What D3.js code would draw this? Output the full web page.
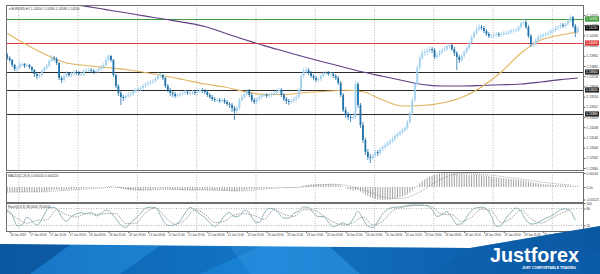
<!DOCTYPE html>
<html lang="en">
<head>
<meta charset="UTF-8">
<title>EURUSD H1</title>
<style>
  html, body { margin: 0; padding: 0; background: #fff; }
  svg { display: block; }
  text { font-family: "Liberation Sans", "DejaVu Sans", sans-serif; }
</style>
</head>
<body>
<div id="chart"></div>
<script src="https://d3js.org/d3.v7.min.js"></script>
<script>
// ---- data ----
var firstOpen = 1.1397;

var closes = [
  1.1394,1.1392,1.1387,1.1383,1.1384,1.1388,1.1388,1.1386,1.1387,1.1385,
  1.1382,1.1378,1.1376,1.1377,1.1381,1.1384,1.1386,1.1391,1.1394,1.1393,
  1.1389,1.1374,1.1372,1.1376,1.1379,1.1377,1.1378,1.1380,1.1379,1.1378,
  1.1378,1.1381,1.1382,1.1382,1.1381,1.1380,1.1381,1.1383,1.1385,1.1387,
  1.1392,1.1396,1.1392,1.1377,1.1366,1.1359,1.1355,1.1354,1.1356,1.1357,
  1.1358,1.1361,1.1362,1.1363,1.1364,1.1366,1.1368,1.1369,1.1370,1.1371,
  1.1373,1.1376,1.1377,1.1374,1.1366,1.1362,1.1359,1.1358,1.1356,1.1357,
  1.1358,1.1359,1.1360,1.1359,1.1359,1.1360,1.1359,1.1361,1.1362,1.1361,
  1.1360,1.1357,1.1355,1.1353,1.1352,1.1352,1.1351,1.1352,1.1350,1.1348,
  1.1347,1.1344,1.1341,1.1344,1.1352,1.1355,1.1358,1.1361,1.1357,1.1352,
  1.1350,1.1353,1.1355,1.1357,1.1357,1.1356,1.1357,1.1358,1.1359,1.1361,
  1.1362,1.1357,1.1353,1.1351,1.1350,1.1351,1.1353,1.1355,1.1362,1.1376,
  1.1381,1.1382,1.1379,1.1376,1.1374,1.1372,1.1373,1.1376,1.1379,1.1379,
  1.1378,1.1378,1.1376,1.1374,1.1369,1.1357,1.1342,1.1337,1.1335,1.1334,
  1.1335,1.1368,1.1347,1.1327,1.1312,1.1300,1.1295,1.1294,1.1297,1.1300,
  1.1299,1.1303,1.1305,1.1307,1.1309,1.1311,1.1313,1.1316,1.1318,1.1320,
  1.1322,1.1324,1.1330,1.1339,1.1352,1.1368,1.1384,1.1394,1.1399,1.1400,
  1.1401,1.1403,1.1402,1.1395,1.1397,1.1400,1.1402,1.1403,1.1406,1.1407,
  1.1403,1.1399,1.1395,1.1392,1.1396,1.1400,1.1404,1.1409,1.1415,1.1419,
  1.1423,1.1425,1.1424,1.1421,1.1418,1.1416,1.1416,1.1417,1.1418,1.1417,
  1.1418,1.1419,1.1419,1.1420,1.1421,1.1422,1.1422,1.1425,1.1429,1.1430,
  1.1425,1.1416,1.1408,1.1408,1.1412,1.1415,1.1416,1.1417,1.1418,1.1419,
  1.1421,1.1422,1.1424,1.1425,1.1427,1.1426,1.1428,1.1431,1.1435,1.1426,
  1.1420,1.1424
];

var highs = [
  1.1399,1.1396,1.1393,1.1388,1.1386,1.1390,1.1390,1.1389,1.1389,1.1388,
  1.1386,1.1383,1.1380,1.1379,1.1383,1.1386,1.1388,1.1393,1.1397,1.1396,
  1.1395,1.1390,1.1376,1.1378,1.1381,1.1380,1.1380,1.1382,1.1382,1.1381,
  1.1380,1.1383,1.1384,1.1384,1.1384,1.1383,1.1383,1.1385,1.1387,1.1389,
  1.1395,1.1398,1.1397,1.1393,1.1378,1.1368,1.1361,1.1357,1.1358,1.1360,
  1.1360,1.1363,1.1364,1.1365,1.1366,1.1368,1.1370,1.1371,1.1372,1.1373,
  1.1375,1.1378,1.1379,1.1378,1.1375,1.1368,1.1364,1.1361,1.1360,1.1359,
  1.1360,1.1361,1.1362,1.1362,1.1361,1.1362,1.1362,1.1363,1.1364,1.1364,
  1.1363,1.1362,1.1359,1.1357,1.1355,1.1354,1.1354,1.1354,1.1354,1.1352,
  1.1350,1.1349,1.1346,1.1346,1.1354,1.1357,1.1360,1.1363,1.1363,1.1359,
  1.1354,1.1355,1.1357,1.1359,1.1359,1.1359,1.1359,1.1360,1.1361,1.1363,
  1.1364,1.1364,1.1359,1.1355,1.1353,1.1353,1.1355,1.1357,1.1364,1.1378,
  1.1384,1.1385,1.1384,1.1381,1.1378,1.1376,1.1375,1.1378,1.1381,1.1381,
  1.1381,1.1380,1.1380,1.1378,1.1376,1.1371,1.1359,1.1345,1.1340,1.1338,
  1.1339,1.1371,1.1370,1.1349,1.1330,1.1314,1.1303,1.1298,1.1299,1.1302,
  1.1302,1.1305,1.1307,1.1309,1.1311,1.1313,1.1315,1.1318,1.1320,1.1322,
  1.1324,1.1326,1.1332,1.1341,1.1354,1.1370,1.1387,1.1397,1.1402,1.1403,
  1.1404,1.1406,1.1405,1.1404,1.1399,1.1402,1.1404,1.1406,1.1409,1.1409,
  1.1408,1.1405,1.1401,1.1397,1.1398,1.1402,1.1406,1.1411,1.1417,1.1421,
  1.1426,1.1428,1.1427,1.1426,1.1423,1.1420,1.1418,1.1419,1.1420,1.1420,
  1.1420,1.1421,1.1421,1.1422,1.1423,1.1424,1.1424,1.1427,1.1431,1.1433,
  1.1432,1.1427,1.1418,1.1411,1.1414,1.1417,1.1418,1.1419,1.1420,1.1421,
  1.1423,1.1424,1.1426,1.1427,1.1429,1.1429,1.1430,1.1433,1.1437,1.1436,
  1.1428,1.1426
];

var lows = [
  1.1392,1.1390,1.1385,1.1381,1.1380,1.1383,1.1385,1.1384,1.1384,1.1383,
  1.1380,1.1375,1.1373,1.1374,1.1375,1.1380,1.1382,1.1385,1.1390,1.1391,
  1.1387,1.1372,1.1369,1.1370,1.1374,1.1375,1.1375,1.1376,1.1377,1.1376,
  1.1376,1.1376,1.1380,1.1380,1.1379,1.1378,1.1378,1.1379,1.1381,1.1383,
  1.1386,1.1390,1.1390,1.1375,1.1364,1.1356,1.1347,1.1351,1.1352,1.1354,
  1.1355,1.1356,1.1359,1.1360,1.1361,1.1362,1.1364,1.1366,1.1367,1.1368,
  1.1369,1.1372,1.1374,1.1372,1.1364,1.1360,1.1356,1.1355,1.1354,1.1354,
  1.1355,1.1356,1.1357,1.1357,1.1357,1.1357,1.1357,1.1357,1.1359,1.1359,
  1.1358,1.1355,1.1353,1.1351,1.1350,1.1350,1.1349,1.1349,1.1348,1.1346,
  1.1344,1.1340,1.1332,1.1338,1.1342,1.1350,1.1353,1.1356,1.1355,1.1350,
  1.1348,1.1348,1.1351,1.1353,1.1355,1.1354,1.1354,1.1355,1.1356,1.1357,
  1.1359,1.1355,1.1351,1.1348,1.1347,1.1348,1.1349,1.1351,1.1353,1.1360,
  1.1374,1.1379,1.1377,1.1374,1.1372,1.1370,1.1370,1.1371,1.1374,1.1377,
  1.1376,1.1375,1.1374,1.1372,1.1367,1.1355,1.1340,1.1334,1.1332,1.1330,
  1.1332,1.1333,1.1344,1.1324,1.1309,1.1297,1.1292,1.1289,1.1292,1.1295,
  1.1296,1.1297,1.1301,1.1303,1.1305,1.1307,1.1309,1.1311,1.1314,1.1316,
  1.1318,1.1320,1.1322,1.1328,1.1337,1.1350,1.1366,1.1382,1.1392,1.1396,
  1.1397,1.1399,1.1399,1.1393,1.1393,1.1395,1.1398,1.1400,1.1401,1.1404,
  1.1401,1.1396,1.1382,1.1389,1.1390,1.1394,1.1398,1.1402,1.1407,1.1413,
  1.1417,1.1421,1.1422,1.1419,1.1416,1.1414,1.1414,1.1414,1.1415,1.1415,
  1.1415,1.1416,1.1417,1.1417,1.1418,1.1419,1.1420,1.1420,1.1423,1.1427,
  1.1423,1.1414,1.1405,1.1405,1.1406,1.1410,1.1413,1.1414,1.1415,1.1416,
  1.1417,1.1419,1.1420,1.1422,1.1423,1.1424,1.1424,1.1426,1.1429,1.1424,
  1.1415,1.1418
];

// moving averages, sampled every 8 bars plus the last bar
var maStep = 8;
var maFast = [1.14185,1.14070,1.13970,1.13890,1.13865,1.13845,1.13825,1.13795,1.13760,1.13720,
  1.13680,1.13650,1.13605,1.13575,1.13575,1.13592,1.13605,1.13617,1.13603,1.13520,
  1.13460,1.13465,1.13490,1.13545,1.13650,1.13800,1.13990,1.14120,1.14170,1.14200];
var maSlow = [1.14586,1.14554,1.14521,1.14489,1.14456,1.14424,1.14392,1.14359,1.14327,1.14294,
  1.14255,1.14190,1.14125,1.14064,1.14008,1.13953,1.13900,1.13850,1.13800,1.13757,
  1.13715,1.13675,1.13660,1.13660,1.13665,1.13672,1.13680,1.13700,1.13724,1.13740];

// horizontal levels
var levelPrices = [1.1433, 1.1409, 1.1380, 1.1362, 1.1338];
var levelKinds = ["green", "red", "black", "black", "black"];

var priceTicks = [1.14370,1.14268,1.14166,1.14064,1.13962,1.13860,1.13758,1.13656,1.13554,
  1.13452,1.13350,1.13248,1.13146,1.13044,1.12942,1.12840];

// MACD histogram (every bar) and signal (every 4 bars)
var macdHist = [
  -0.00046,-0.00047,-0.00048,-0.00049,-0.00050,-0.00049,-0.00048,-0.00048,-0.00047,-0.00047,
  -0.00048,-0.00049,-0.00050,-0.00049,-0.00047,-0.00044,-0.00041,-0.00037,-0.00032,-0.00028,
  -0.00026,-0.00028,-0.00030,-0.00029,-0.00027,-0.00025,-0.00023,-0.00021,-0.00019,-0.00017,
  -0.00015,-0.00013,-0.00011,-0.00009,-0.00008,-0.00006,-0.00005,-0.00003,-0.00001,0.00001,
  0.00004,0.00007,0.00008,0.00004,-0.00003,-0.00010,-0.00017,-0.00023,-0.00028,-0.00031,
  -0.00034,-0.00035,-0.00036,-0.00036,-0.00035,-0.00034,-0.00032,-0.00030,-0.00028,-0.00025,
  -0.00022,-0.00019,-0.00016,-0.00015,-0.00017,-0.00020,-0.00023,-0.00026,-0.00028,-0.00030,
  -0.00031,-0.00032,-0.00032,-0.00032,-0.00032,-0.00031,-0.00031,-0.00030,-0.00029,-0.00029,
  -0.00029,-0.00030,-0.00031,-0.00033,-0.00034,-0.00035,-0.00036,-0.00036,-0.00037,-0.00038,
  -0.00039,-0.00040,-0.00042,-0.00042,-0.00039,-0.00035,-0.00031,-0.00026,-0.00023,-0.00021,
  -0.00020,-0.00019,-0.00017,-0.00015,-0.00013,-0.00012,-0.00010,-0.00008,-0.00006,-0.00004,
  -0.00003,-0.00003,-0.00004,-0.00005,-0.00006,-0.00006,-0.00006,-0.00005,-0.00002,0.00006,
  0.00013,0.00019,0.00023,0.00026,0.00027,0.00028,0.00028,0.00028,0.00029,0.00029,
  0.00029,0.00029,0.00028,0.00027,0.00024,0.00016,0.00003,-0.00009,-0.00020,-0.00029,
  -0.00036,-0.00029,-0.00033,-0.00045,-0.00060,-0.00076,-0.00090,-0.00103,-0.00112,-0.00119,
  -0.00124,-0.00127,-0.00129,-0.00129,-0.00128,-0.00125,-0.00121,-0.00116,-0.00110,-0.00103,
  -0.00095,-0.00086,-0.00074,-0.00058,-0.00038,-0.00014,0.00012,0.00036,0.00058,0.00076,
  0.00092,0.00105,0.00116,0.00123,0.00129,0.00134,0.00138,0.00141,0.00143,0.00144,
  0.00143,0.00140,0.00136,0.00132,0.00129,0.00126,0.00124,0.00123,0.00123,0.00123,
  0.00123,0.00122,0.00120,0.00117,0.00113,0.00109,0.00105,0.00101,0.00097,0.00094,
  0.00091,0.00088,0.00085,0.00082,0.00079,0.00076,0.00073,0.00070,0.00068,0.00066,
  0.00062,0.00056,0.00049,0.00043,0.00039,0.00036,0.00033,0.00030,0.00028,0.00026,
  0.00024,0.00022,0.00020,0.00019,0.00018,0.00017,0.00016,0.00016,0.00017,0.00015,
  0.00012,0.00011
];
var macdSignalStep = 4;
var macdSignal = [
  -0.00052,-0.00050,-0.00049,-0.00049,-0.00047,-0.00040,-0.00033,-0.00027,-0.00020,-0.00013,
  -0.00006,-0.00001,-0.00010,-0.00022,-0.00030,-0.00028,-0.00022,-0.00023,-0.00028,-0.00030,
  -0.00030,-0.00031,-0.00034,-0.00038,-0.00038,-0.00030,-0.00020,-0.00012,-0.00006,-0.00005,
  0.00002,0.00015,0.00024,0.00028,0.00022,0.00000,-0.00028,-0.00065,-0.00098,-0.00116,
  -0.00114,-0.00085,-0.00038,0.00026,0.00082,0.00118,0.00134,0.00132,0.00127,0.00118,
  0.00106,0.00093,0.00080,0.00066,0.00050,0.00038,0.00028,0.00022
];
var macdTicks = [0.00140, 0, -0.00125];

// Stochastic: main every 2 bars, signal every 4 bars
var stochMainStep = 2;
var stochMain = [
  74,58,18,22,49,35,21,42,75,85,
  80,50,35,52,61,65,62,66,54,62,
  75,65,44,21,13,30,45,63,82,85,
  84,56,26,19,23,36,64,84,75,60,
  48,29,17,30,55,66,51,54,74,65,
  35,30,63,81,79,62,46,46,62,72,
  86,84,64,51,52,32,15,22,29,22,
  43,70,43,17,13,33,61,77,84,85,
  87,91,93,93,92,90,76,52,59,69,
  49,24,26,50,73,83,85,80,52,16,
  20,47,67,82,70,40,25,27,36,45,
  53,64,76,79,70,38
];
var stochSignalStep = 4;
var stochSignal = [
  70,45,28,38,40,75,58,50,62,60,
  62,62,27,28,65,82,50,24,40,76,
  60,30,35,58,62,55,42,76,60,52,
  76,75,55,32,22,30,50,22,35,72,
  85,90,92,85,60,58,34,50,78,72,
  30,45,75,45,28,44,62,76
];
var stochLevels = [80, 20];
var stochTicks = [100, 80, 20, 0];

var timeLabels = ["16 Jan 2019","17 Jan 03:00","17 Jan 11:00","17 Jan 19:00","18 Jan 03:00",
  "18 Jan 11:00","18 Jan 19:00","21 Jan 03:00","21 Jan 11:00","21 Jan 19:00","22 Jan 03:00",
  "22 Jan 11:00","22 Jan 19:00","23 Jan 03:00","23 Jan 11:00","23 Jan 19:00","24 Jan 03:00",
  "24 Jan 11:00","24 Jan 19:00","25 Jan 03:00","25 Jan 11:00","25 Jan 19:00","28 Jan 03:00",
  "28 Jan 11:00","28 Jan 19:00","29 Jan 03:00","29 Jan 11:00","29 Jan 19:00","30 Jan 03:00"];
var timeLabelFirstBar = 1, timeLabelStep = 8;
var gridFirstBar = 5, gridStep = 24;

// ---- layout ----
var width = 600, height = 274;
var left = 6, right = 584;
var mainTop = 5, mainBottom = 170;
var macdTop = 172, macdBottom = 202;
var stochTop = 203, stochBottom = 231;
var bull = "#9fd0ee", bear = "#2273ab";
var levelColor = { green: "#3f9a3a", red: "#e0393b", black: "#2b2b2b" };

var svg = d3.select("#chart").append("svg")
  .attr("width", width)
  .attr("height", height);

var defs = svg.append("defs");
defs.append("clipPath").attr("id", "mainClip")
  .append("rect").attr("x", left).attr("y", mainTop)
  .attr("width", right - left).attr("height", mainBottom - mainTop);

var x = d3.scaleLinear().domain([0, 234]).range([left, right]);
function cx(i) { return x(i + 0.5); }
var y = d3.scaleLinear().domain([1.1282, 1.1447]).range([mainBottom, mainTop]);
var yMacd = d3.scaleLinear().domain([-0.0015, 0.0015]).range([macdBottom, macdTop]);
var yStoch = d3.scaleLinear().domain([0, 100]).range([stochBottom, stochTop]);

var bars = closes.map(function (c, i) {
  return { i: i, o: i ? closes[i - 1] : firstOpen, h: highs[i], l: lows[i], c: c };
});

// vertical grid
var gridBars = d3.range(gridFirstBar, 234, gridStep);
[[mainTop, mainBottom], [macdTop, macdBottom], [stochTop, stochBottom]].forEach(function (p) {
  svg.append("g").selectAll("line").data(gridBars).enter().append("line")
    .attr("x1", function (d) { return x(d) + 0.5; })
    .attr("x2", function (d) { return x(d) + 0.5; })
    .attr("y1", p[0]).attr("y2", p[1])
    .attr("stroke", "#a8a8a8").attr("stroke-width", 0.8)
    .attr("stroke-dasharray", "1,1.5");
});

// levels
svg.append("g").selectAll("line").data(levelPrices).enter().append("line")
  .attr("x1", left).attr("x2", right)
  .attr("y1", function (d) { return Math.round(y(d)) + 0.5; })
  .attr("y2", function (d) { return Math.round(y(d)) + 0.5; })
  .attr("stroke", function (d, i) { return levelColor[levelKinds[i]]; })
  .attr("stroke-width", 1);

// moving averages
var maBars = d3.range(0, closes.length - 1, maStep).concat([closes.length - 1]);
var maLine = d3.line()
  .x(function (d, k) { return cx(maBars[k]); })
  .y(function (d) { return y(d); })
  .curve(d3.curveMonotoneX);
var maG = svg.append("g").attr("clip-path", "url(#mainClip)");
maG.append("path").datum(maSlow).attr("d", maLine)
  .attr("fill", "none").attr("stroke", "#5e3f80").attr("stroke-width", 1.1);
maG.append("path").datum(maFast).attr("d", maLine)
  .attr("fill", "none").attr("stroke", "#e2b35e").attr("stroke-width", 1.1);

// candles
var candles = svg.append("g").selectAll("g").data(bars).enter().append("g");
candles.append("line")
  .attr("x1", function (d) { return cx(d.i); })
  .attr("x2", function (d) { return cx(d.i); })
  .attr("y1", function (d) { return y(d.h); })
  .attr("y2", function (d) { return y(d.l); })
  .attr("stroke", function (d) { return d.c >= d.o ? bull : bear; })
  .attr("stroke-width", 0.8);
candles.append("rect")
  .attr("x", function (d) { return cx(d.i) - 0.9; })
  .attr("width", 1.8)
  .attr("y", function (d) { return y(Math.max(d.o, d.c)); })
  .attr("height", function (d) { return Math.max(0.8, Math.abs(y(d.o) - y(d.c))); })
  .attr("fill", function (d) { return d.c >= d.o ? bull : bear; });

// MACD
svg.append("g").selectAll("line").data(macdHist).enter().append("line")
  .attr("x1", function (d, i) { return cx(i); })
  .attr("x2", function (d, i) { return cx(i); })
  .attr("y1", yMacd(0))
  .attr("y2", function (d) { return yMacd(d); })
  .attr("stroke", "#8a8a8a").attr("stroke-width", 0.8);
svg.append("path").datum(macdSignal)
  .attr("d", d3.line()
    .x(function (d, k) { return cx(k * macdSignalStep); })
    .y(function (d) { return yMacd(d); })
    .curve(d3.curveMonotoneX))
  .attr("fill", "none").attr("stroke", "#909090").attr("stroke-width", 0.8)
  .attr("stroke-dasharray", "1,1");

// Stochastic
svg.append("g").selectAll("line").data(stochLevels).enter().append("line")
  .attr("x1", left).attr("x2", right)
  .attr("y1", function (d) { return yStoch(d); })
  .attr("y2", function (d) { return yStoch(d); })
  .attr("stroke", "#9a9a9a").attr("stroke-width", 0.8)
  .attr("stroke-dasharray", "1,1.5");
svg.append("path").datum(stochSignal)
  .attr("d", d3.line()
    .x(function (d, k) { return cx(k * stochSignalStep); })
    .y(function (d) { return yStoch(d); })
    .curve(d3.curveMonotoneX))
  .attr("fill", "none").attr("stroke", "#8c8c8c").attr("stroke-width", 0.8)
  .attr("stroke-dasharray", "1.5,1");
svg.append("path").datum(stochMain)
  .attr("d", d3.line()
    .x(function (d, k) { return cx(k * stochMainStep); })
    .y(function (d) { return yStoch(d); })
    .curve(d3.curveMonotoneX))
  .attr("fill", "none").attr("stroke", "#86aab2").attr("stroke-width", 0.9);

// panel frames
[[mainTop, mainBottom], [macdTop, macdBottom], [stochTop, stochBottom]].forEach(function (p) {
  svg.append("rect")
    .attr("x", left + 0.5).attr("y", p[0] + 0.5)
    .attr("width", right - left - 1).attr("height", p[1] - p[0])
    .attr("fill", "none").attr("stroke", "#6e6e6e").attr("stroke-width", 1);
});

// axes
function styleAxis(size) {
  return function (g) {
    g.select(".domain").remove();
    g.selectAll(".tick line").attr("stroke", "#666");
    g.selectAll(".tick text").attr("font-size", size + "px").attr("fill", "#333");
  };
}
svg.append("g").attr("transform", "translate(" + right + ",0)")
  .call(d3.axisRight(y).tickValues(priceTicks).tickFormat(d3.format(".5f")).tickSize(1.5).tickPadding(1))
  .call(styleAxis(3.2));
svg.append("g").attr("transform", "translate(" + right + ",0)")
  .call(d3.axisRight(yMacd).tickValues(macdTicks)
    .tickFormat(function (d) { return d === 0 ? "0.00" : d.toFixed(5); }).tickSize(1.5).tickPadding(1))
  .call(styleAxis(3.2));
svg.append("g").attr("transform", "translate(" + right + ",0)")
  .call(d3.axisRight(yStoch).tickValues(stochTicks).tickSize(1.5).tickPadding(1))
  .call(styleAxis(3.2));

var timeBars = timeLabels.map(function (t, k) { return timeLabelFirstBar + k * timeLabelStep; });
svg.append("g").attr("transform", "translate(0," + (stochBottom + 0.5) + ")")
  .call(d3.axisBottom(x).tickValues(timeBars.map(function (b) { return b + 0.5; }))
    .tickFormat(function (d, k) { return timeLabels[k]; }).tickSize(1.5).tickPadding(1.5))
  .call(styleAxis(2.8))
  .selectAll(".tick text").attr("text-anchor", "start").attr("dx", "0.3");

// level price boxes
var current = closes[closes.length - 1];
var boxes = levelPrices.map(function (p, i) { return { p: p, color: levelColor[levelKinds[i]] }; });
boxes.push({ p: current, color: "#000" });
var boxG = svg.append("g").selectAll("g").data(boxes).enter().append("g");
boxG.append("rect")
  .attr("x", right + 1).attr("width", 14)
  .attr("y", function (d) { return y(d.p) - 2.6; }).attr("height", 5.2)
  .attr("fill", function (d) { return d.color; });
boxG.append("text")
  .attr("x", right + 2).attr("y", function (d) { return y(d.p) + 1.2; })
  .attr("font-size", "3.2px").attr("fill", "#fff")
  .text(function (d) { return d.p.toFixed(5); });

// panel titles
var last = bars[bars.length - 1];
var fmt = d3.format(".5f");
svg.append("text").attr("x", left + 3).attr("y", mainTop + 4.5)
  .attr("font-size", "3.2px").attr("fill", "#333")
  .text("\u25BE EURUSD,H1  " + [last.o, last.h, last.l, last.c].map(fmt).join(" "));
svg.append("text").attr("x", left + 2).attr("y", macdTop + 4.5)
  .attr("font-size", "3.2px").attr("fill", "#333")
  .text("MACD(12,26,9) " + d3.format(".6f")(macdHist[macdHist.length - 1]) + " " +
    d3.format(".6f")(macdSignal[macdSignal.length - 1]));
svg.append("text").attr("x", left + 2).attr("y", stochTop + 4.5)
  .attr("font-size", "3.2px").attr("fill", "#333")
  .text("Stoch(5,3,3) " + d3.format(".4f")(stochMain[stochMain.length - 1]) + " " +
    d3.format(".4f")(stochSignal[stochSignal.length - 1]));

// ---- banner ----
var grad = defs.append("linearGradient").attr("id", "bannerGrad")
  .attr("x1", "0").attr("x2", "1").attr("y1", "0").attr("y2", "0");
grad.append("stop").attr("offset", "0").attr("stop-color", "#0e66b4");
grad.append("stop").attr("offset", "0.45").attr("stop-color", "#1a84d6");
grad.append("stop").attr("offset", "1").attr("stop-color", "#0a5aa6");
var banner = svg.append("g");
banner.append("polygon").attr("points", "0,244 470,248 600,226 600,274 0,274")
  .attr("fill", "url(#bannerGrad)");
var facets = [
  ["0,244 70,245 30,274 0,274", "#0a4f93", 0.6],
  ["70,245 160,246 120,274 30,274", "#2b93e2", 0.35],
  ["160,246 260,247 200,274 120,274", "#0c5fae", 0.45],
  ["230,247 330,247 360,274 250,274", "#3aa0ea", 0.3],
  ["330,247 470,248 430,274 360,274", "#0b57a0", 0.4],
  ["470,248 600,226 600,250 520,274 430,274", "#0a569e", 0.5]
];
banner.selectAll("polygon.facet").data(facets).enter().append("polygon")
  .attr("class", "facet")
  .attr("points", function (d) { return d[0]; })
  .attr("fill", function (d) { return d[1]; })
  .attr("opacity", function (d) { return d[2]; });
banner.append("text").attr("x", 490).attr("y", 262)
  .attr("font-family", "'Open Sans', sans-serif").attr("font-weight", 600)
  .attr("font-size", "21px").attr("fill", "#fff")
  .attr("textLength", 89).attr("lengthAdjust", "spacingAndGlyphs")
  .text("Justforex");
banner.append("text").attr("x", 522).attr("y", 268.6)
  .attr("font-weight", 700).attr("font-size", "3.6px").attr("fill", "#fff")
  .attr("textLength", 54).attr("lengthAdjust", "spacingAndGlyphs")
  .text("JUST COMFORTABLE TRADING");
</script>
</body>
</html>
